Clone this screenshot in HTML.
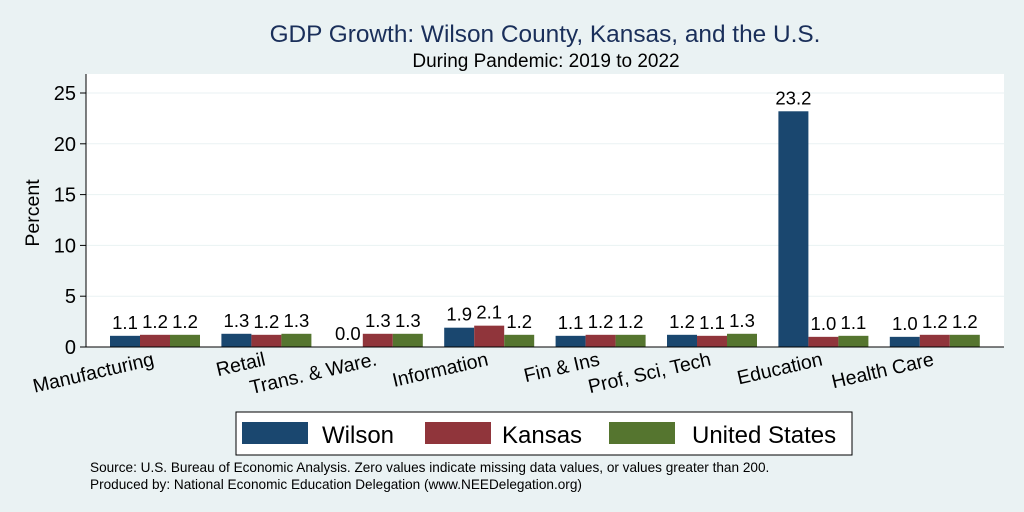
<!DOCTYPE html>
<html><head><meta charset="utf-8"><style>
body{margin:0;background:#eaf2f3;}
svg{display:block;font-family:"Liberation Sans",sans-serif;}
</style></head><body>
<svg width="1024" height="512" viewBox="0 0 1024 512">
<rect x="0" y="0" width="1024" height="512" fill="#eaf2f3"/>
<rect x="86" y="74" width="918" height="273" fill="#ffffff"/>
<text x="545" y="42" font-size="24.4" fill="#1a2f5a" text-anchor="middle">GDP Growth: Wilson County, Kansas, and the U.S.</text>
<text x="546" y="67" font-size="19" fill="#000" text-anchor="middle">During Pandemic: 2019 to 2022</text>
<text transform="translate(39,213) rotate(-90)" font-size="19.5" text-anchor="middle">Percent</text>
<g id="grid"></g>
<g id="bars"></g>
<line x1="86" y1="74" x2="86" y2="347" stroke="#000" stroke-width="1"/>
<line x1="86" y1="347" x2="1004" y2="347" stroke="#000" stroke-width="1"/>
<rect x="236" y="412" width="616" height="43" fill="#fff" stroke="#000"/>
<g><rect x="242" y="422" width="66" height="22" fill="#1a476f"/><text x="322" y="443" font-size="24">Wilson</text></g>
<g><rect x="425" y="422" width="66" height="22" fill="#90353b"/><text x="502" y="443" font-size="24">Kansas</text></g>
<g><rect x="609" y="422" width="66" height="22" fill="#55752f"/><text x="692" y="443" font-size="24">United States</text></g>
<text x="90" y="472" font-size="13.6">Source: U.S. Bureau of Economic Analysis. Zero values indicate missing data values, or values greater than 200.</text>
<text x="90" y="489" font-size="13.6">Produced by: National Economic Education Delegation (www.NEEDelegation.org)</text>
</svg>
<script>
const categories=["Manufacturing","Retail","Trans. & Ware.","Information","Fin & Ins","Prof, Sci, Tech","Education","Health Care"];
const wilson=[1.1,1.3,0.0,1.9,1.1,1.2,23.2,1.0];
const kansas=[1.2,1.2,1.3,2.1,1.2,1.1,1.0,1.2];
const us=[1.2,1.3,1.3,1.2,1.2,1.3,1.1,1.2];
const yTicks=[0,5,10,15,20,25];
const NS="http://www.w3.org/2000/svg";
const y=v=>347-v*10.16;
const xc=i=>155+i*111.4;
const grid=document.getElementById('grid'),bars=document.getElementById('bars');
function mk(tag,attrs,parent,txt){const e=document.createElementNS(NS,tag);for(const k in attrs)e.setAttribute(k,attrs[k]);if(txt!==undefined)e.textContent=txt;parent.appendChild(e);return e;}
yTicks.forEach(t=>{
 if(t>0){const g=mk('line',{x1:86,x2:1004,y1:y(t),y2:y(t),stroke:'#eaf2f3','stroke-width':1},grid);
 
 }
 const tk=mk('line',{x1:80,x2:86,y1:y(t),y2:y(t),stroke:'#000'},grid);
 
 
 const l=mk('text',{x:76,y:y(t)+7,'font-size':20,'text-anchor':'end'},grid,String(t));
 
 
});
const series=[[wilson,'#1a476f'],[kansas,'#90353b'],[us,'#55752f']];
categories.forEach((c,i)=>{
 series.forEach(([vals,col],s)=>{
  const x=xc(i)-45+s*30,v=vals[i];
  const r=mk('rect',{x:x,y:y(v),width:30,height:347-y(v),fill:col},bars);
  
  
  const t=mk('text',{x:x+15,y:y(v)-7,'font-size':18.5,'text-anchor':'middle'},bars,v.toFixed(1));
  
  
 });
 const lb=mk('text',{transform:`translate(${xc(i)},365) rotate(-13)`,'font-size':19.5,'text-anchor':'end'},bars,c);
 
 
});
</script>
</body></html>
